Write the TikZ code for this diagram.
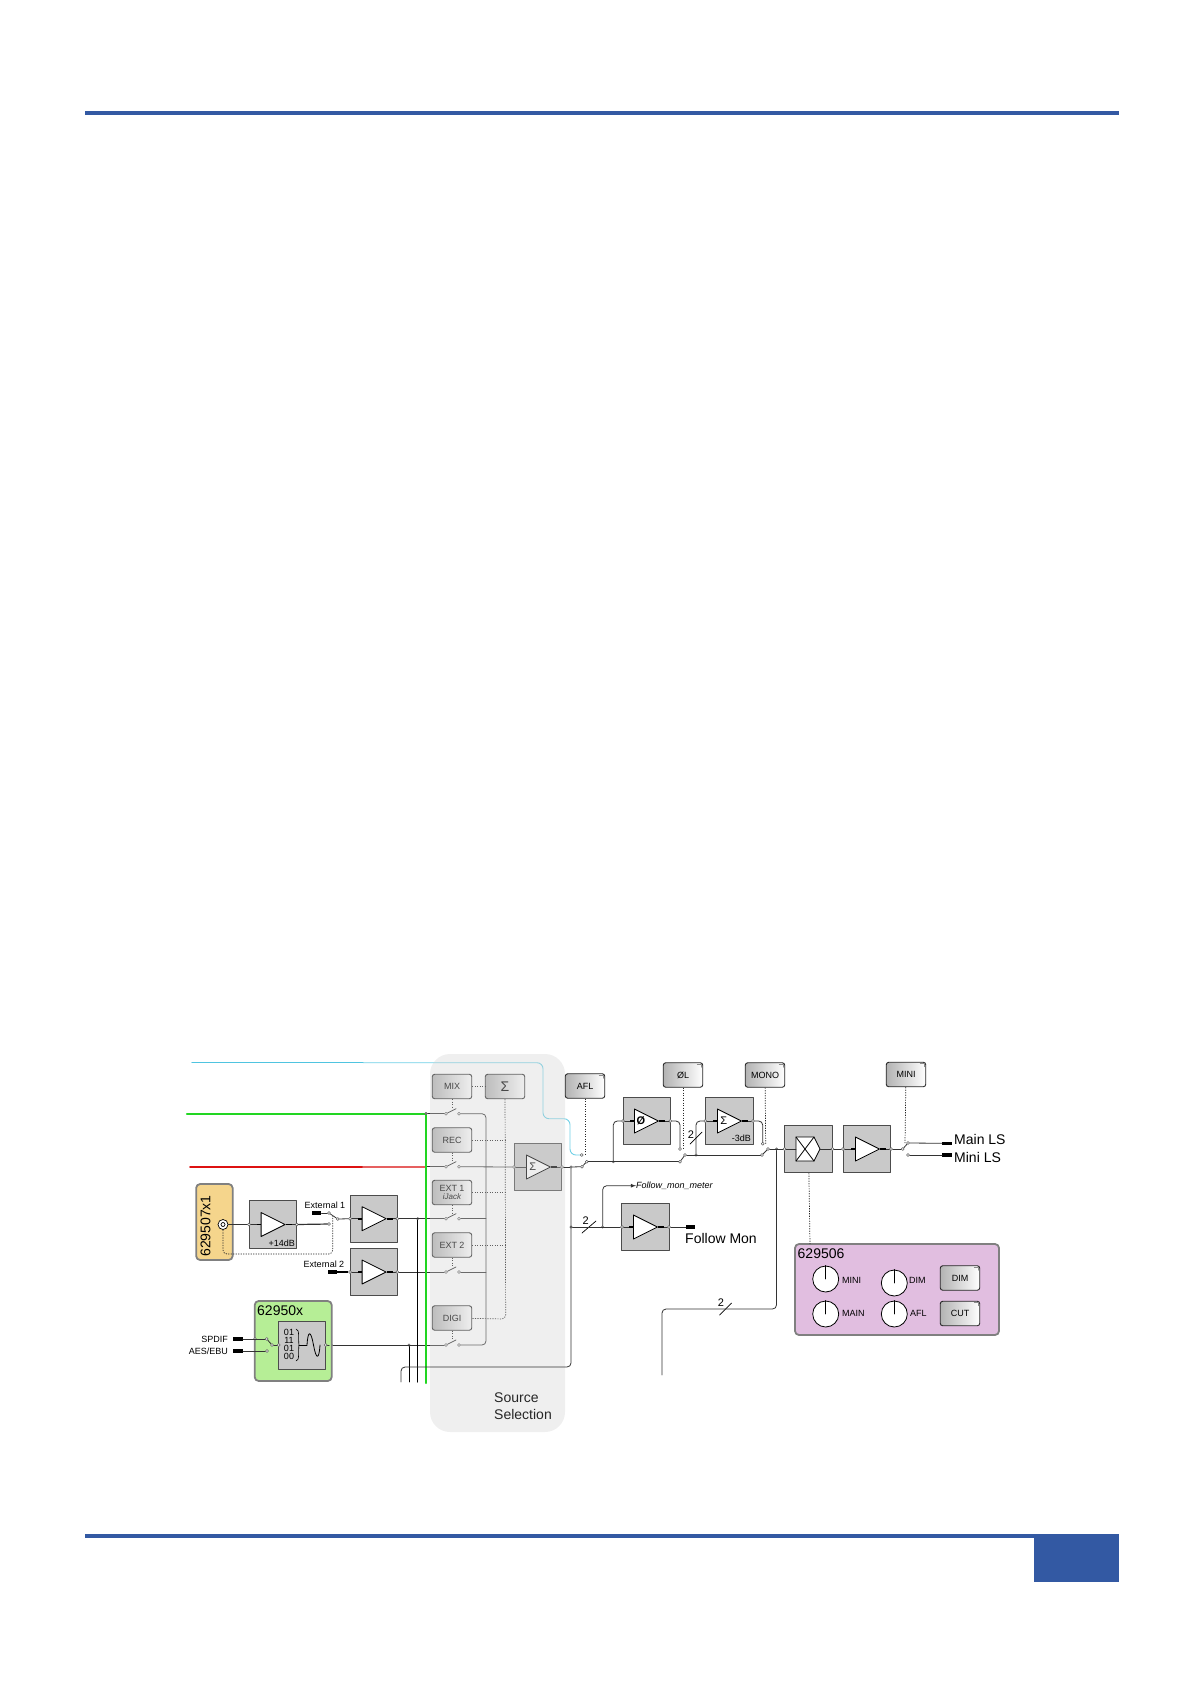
\documentclass[tikz,border=0pt]{standalone}
\usepackage{fontspec}
\setmainfont{Liberation Sans}
\usetikzlibrary{shapes.geometric}
\definecolor{barblue}{HTML}{3359A3}
\definecolor{blockgrey}{HTML}{C9C9C9}
\definecolor{cyanline}{HTML}{4FC4E0}
\definecolor{cyanfade}{HTML}{6FD0E6}
\definecolor{greenline}{HTML}{22D622}
\definecolor{redline}{HTML}{DD1111}
\definecolor{redfade}{HTML}{E66060}
\definecolor{orangebox}{HTML}{F5D58C}
\definecolor{greenbox}{HTML}{B6EE96}
\definecolor{lilacbox}{HTML}{E1BEE0}
\tikzset{
  blockbox/.style={draw=black!70,fill=blockgrey,line width=0.6pt,minimum width=47.5,minimum height=47.5,inner sep=0pt},
  cardbox/.style={draw=black!50,line width=1.8pt,rounded corners=4pt,inner sep=0pt},
  ampsym/.style={isosceles triangle,isosceles triangle stretches,draw=black,fill=white,line width=0.8pt,minimum width=24,minimum height=24,inner sep=0pt,anchor=lower side,font=\fontsize{11}{11}\selectfont},
  keybox/.style={draw=black!85,rounded corners=2.5pt,line width=0.9pt,left color=black!30,right color=white,minimum width=39.5,minimum height=24.5,inner sep=0pt,font=\fontsize{9}{9}\selectfont},
  knobdial/.style={circle,draw=black,fill=white,line width=0.8pt,minimum size=26,inner sep=0pt},
  pinpoint/.style={circle,draw=black!65,fill=white,line width=0.5pt,minimum size=3,inner sep=0pt},
  dotpoint/.style={circle,draw=black!60,fill=black!50,line width=0.3pt,minimum size=2.6,inner sep=0pt},
  plugbox/.style={fill=black,minimum width=9.5,minimum height=3.6,inner sep=0pt},
  sigline/.style={line width=0.8pt,draw=black!80},
  stubline/.style={line width=1.6pt,draw=black,line cap=butt},
  ctrlline/.style={line width=0.7pt,draw=black!85,line cap=butt,dash pattern=on 1.2pt off 1.3pt},
  smalltext/.style={font=\fontsize{9}{9}\selectfont,inner sep=0pt},
  bigtext/.style={font=\fontsize{14}{17.5}\selectfont,inner sep=0pt,anchor=west}
}
\begin{document}
\begin{tikzpicture}[x=1pt,y=-1pt,line cap=round,line join=round,>=latex]
  \useasboundingbox (0,0) rectangle (1191,1684);
  % page rules
  \fill[barblue] (85,111) rectangle (1119,115);
  \fill[barblue] (85,1534) rectangle (1119,1538);
  \fill[barblue] (1034,1538) rectangle (1119,1582);
  % input lines
  \coordinate (cyanstart) at (192,1062.7);
  \coordinate (cyanmid) at (363,1062.7);
  \coordinate (redstart) at (190,1166.7);
  \coordinate (redmid) at (363,1166.7);
  \coordinate (greenstart) at (187,1113.7);
  \coordinate (greenbus) at (426,1113.7);
  \coordinate (greenend) at (426,1383);
  \draw[cyanline,line width=1.1pt] (cyanstart) -- (cyanmid);
  \draw[cyanfade,line width=0.9pt,rounded corners=6pt] (cyanmid) -- (543,1062.7) -- (543,1118.7) -- (570,1118.7) -- (570,1155) -- (581,1155);
  \draw[redline,line width=1.6pt] (redstart) -- (redmid);
  % blocks
  \node[blockbox] (ampgain) at (272.8,1224.5) {};
  \node[blockbox] (ampext) at (373.6,1218.7) {};
  \node[blockbox] (ampint) at (373.6,1272) {};
  \node[blockbox] (sumblock) at (538,1167) {};
  \node[blockbox] (phase) at (646.7,1121) {};
  \node[blockbox] (mono) at (729.2,1121) {};
  \node[blockbox] (matrix) at (808.5,1149) {};
  \node[blockbox] (ampout) at (867,1149) {};
  \node[blockbox] (ampmon) at (645.5,1227) {};
  % symbols in the blocks
  \node[ampsym] (trigain) at (260.7,1224.5) {};
  \node[ampsym] (triext) at (361.7,1218.7) {};
  \node[ampsym] (triint) at (361.7,1272) {};
  \node[ampsym] (trisum) at (526,1167) {Σ\hspace{8pt}};
  \node[ampsym] (triphase) at (634,1121) {\textbf{Ø}\hspace{7pt}};
  \node[ampsym] (trimono) at (717,1121) {Σ\hspace{8pt}};
  \node[ampsym] (triout) at (855,1149) {};
  \node[ampsym] (trimon) at (633,1227) {};
  \draw[line width=0.8pt,fill=white] (796,1137) -- (814,1137) -- (820,1149) -- (814,1161) -- (796,1161) -- cycle;
  \draw[line width=0.8pt] (796,1137) -- (814,1161);
  \draw[line width=0.8pt] (796,1161) -- (814,1137);
  \node[smalltext,anchor=east] (gainlabel) at (295,1243) {+14dB};
  \node[smalltext,anchor=east] (monolabel) at (751,1138.7) {-3dB};
  % source selection lines, under the panel
  \node[pinpoint] (mixa) at (446,1113.7) {};
  \node[pinpoint] (mixb) at (459,1113.7) {};
  \node[pinpoint] (reca) at (446,1166.7) {};
  \node[pinpoint] (recb) at (459,1166.7) {};
  \node[pinpoint] (exta) at (446,1218.7) {};
  \node[pinpoint] (extb) at (459,1218.7) {};
  \node[pinpoint] (inta) at (446,1272) {};
  \node[pinpoint] (intb) at (459,1272) {};
  \node[pinpoint] (diga) at (446,1345) {};
  \node[pinpoint] (digb) at (459,1345) {};
  \node[pinpoint] (sumin) at (514,1167) {};
  \node[pinpoint] (sumout) at (562,1167) {};
  \node[dotpoint] (greentap) at (426,1113.7) {};
  \node[dotpoint] (extbus) at (417.7,1218.7) {};
  \node[dotpoint] (digbus) at (409,1345) {};
  \node[pinpoint] (extout) at (397.3,1218.7) {};
  \node[pinpoint] (intout) at (397.3,1272) {};
  \node[pinpoint] (conv) at (331,1345) {};
  \coordinate (mixarm) at (456,1108.7);
  \coordinate (recarm) at (456,1161.7);
  \coordinate (extarm) at (456,1213.7);
  \coordinate (intarm) at (456,1267);
  \coordinate (digarm) at (456,1340);
  \draw[sigline] (greentap) -- (mixa);
  \draw[sigline] (redmid) -- (reca);
  \draw[redfade,line width=1.6pt] (redmid) -- (426,1166.7);
  \draw[sigline] (extout) -- (exta);
  \draw[sigline] (intout) -- (inta);
  \draw[sigline] (conv) -- (diga);
  \draw[sigline] (mixa) -- (mixarm);
  \draw[sigline] (reca) -- (recarm);
  \draw[sigline] (exta) -- (extarm);
  \draw[sigline] (inta) -- (intarm);
  \draw[sigline] (diga) -- (digarm);
  \draw[sigline,rounded corners=4pt] (mixb) -- (486,1113.7) -- (486,1345) -- (digb);
  \draw[sigline] (recb) -- (sumin);
  \draw[sigline] (extb) -- (486,1218.7);
  \draw[sigline] (intb) -- (486,1272);
  \draw[sigline] (sumin) -- (trisum.lower side);
  \draw[sigline] (trisum.apex) -- (sumout);
  \draw[stubline] (trisum.apex) -- ++(6,0);
  % panel keys
  \node[keybox] (keymix) at (452,1086.5) {MIX};
  \node[keybox] (keysum) at (505,1086.5) {\fontsize{14}{14}\selectfont Σ};
  \node[keybox] (keyrec) at (452,1140) {REC};
  \node[keybox,align=center] (keyexta) at (452,1192.5) {\fontsize{9}{8}\selectfont EXT 1\\[-1pt]\fontsize{8}{7}\selectfont\itshape iJack};
  \node[keybox] (keyextb) at (452,1245) {EXT 2};
  \node[keybox] (keydigi) at (452,1318) {DIGI};
  \draw[ctrlline] (keymix) -- (keysum);
  \draw[ctrlline] (keymix) -- (mixarm -| keymix);
  \draw[ctrlline] (keyrec) -- (recarm -| keyrec);
  \draw[ctrlline] (keyexta) -- (extarm -| keyexta);
  \draw[ctrlline] (keyextb) -- (intarm -| keyextb);
  \draw[ctrlline] (keydigi) -- (digarm -| keydigi);
  \draw[ctrlline,rounded corners=4pt] (keysum) -- (505.7,1319) -- (keydigi);
  \draw[ctrlline] (keyrec) -- (505.7,1140);
  \draw[ctrlline] (keyexta) -- (505.7,1192.5);
  \draw[ctrlline] (keyextb) -- (505.7,1245);
  % panel over everything in it
  \fill[black!18,opacity=0.35,rounded corners=20pt] (430,1054) rectangle (565,1432);
  \node[bigtext,align=left,text=black!85] (sourcetext) at (494,1406) {Source\\Selection};
  % inputs from the left
  \draw[greenline,line width=2.4pt] (greenstart) -- (greenbus) -- (greenend);
  \node[dotpoint] (greendot) at (426,1113.7) {};
  \coordinate (extend) at (417.7,1382);
  \coordinate (digend) at (409,1382);
  \coordinate (sumend) at (401,1382);
  \draw[line width=1.3pt] (extbus) -- (extend);
  \draw[line width=0.8pt] (digbus) -- (digend);
  % card 629507x1
  \node[cardbox,fill=orangebox,minimum width=36.5,minimum height=76] (cardin) at (214.4,1222) {};
  \node[font=\fontsize{14}{14}\selectfont,inner sep=0pt,rotate=90] (cardintext) at (205.5,1226) {629507x1};
  \node[circle,draw=black,fill=white,line width=0.7pt,minimum size=10,inner sep=0pt] (jack) at (223,1224.5) {};
  \node[circle,draw=black,line width=0.7pt,minimum size=4,inner sep=0pt] (jackcore) at (223,1224.5) {};
  \node[pinpoint] (gainin) at (249,1224.5) {};
  \node[pinpoint] (gainout) at (296.7,1224.5) {};
  \draw[sigline] (jack) -- (gainin);
  \draw[sigline] (gainin) -- (trigain.lower side);
  \draw[sigline] (trigain.apex) -- (gainout);
  % external inputs
  \node[smalltext] (ext1text) at (325,1205) {External 1};
  \node[smalltext] (ext2text) at (324,1264) {External 2};
  \node[plugbox] (ext1plug) at (316.5,1213) {};
  \node[plugbox] (ext2plug) at (332.5,1272) {};
  \node[pinpoint] (swa) at (329,1213) {};
  \node[pinpoint] (swb) at (329,1224) {};
  \node[pinpoint] (swc) at (337.7,1219) {};
  \node[pinpoint] (extin) at (350,1218.7) {};
  \node[pinpoint] (intin) at (350,1272) {};
  \draw[sigline] (ext1plug) -- (swa);
  \draw[sigline] (swa) -- (swc);
  \draw[sigline,line width=1.2pt] (gainout) -- (swb);
  \draw[sigline] (swc) -- (extin);
  \draw[sigline] (extin) -- (triext.lower side);
  \draw[sigline] (triext.apex) -- (extout);
  \draw[stubline] (ext2plug) -- (intin);
  \draw[sigline] (intin) -- (triint.lower side);
  \draw[sigline] (triint.apex) -- (intout);
  \draw[ctrlline,rounded corners=4pt] (jack) -- (223,1254) -- (332.7,1254) -- (332.7,1216);
  % card 62950x
  \node[cardbox,fill=greenbox,minimum width=77,minimum height=80] (cardconv) at (293.2,1341) {};
  \node[bigtext] (cardconvtext) at (257,1311) {62950x};
  \node[blockbox,minimum width=47,minimum height=48] (convblock) at (302.2,1345) {};
  \node[font=\fontsize{9}{8}\selectfont,align=center,inner sep=0pt] (bits) at (289,1344) {01\\11\\01\\00};
  \draw[line width=0.6pt] (296,1329) .. controls (300,1329) and (298,1340) .. (299,1345) .. controls (298,1350) and (300,1361) .. (296,1361);
  \coordinate (sinestart) at (299,1345);
  \coordinate (sinea) at (307,1345);
  \draw[line width=0.6pt] (sinestart) -- (sinea);
  \draw[line width=0.8pt] (sinea) .. controls (308,1329) and (311,1331) .. (313.5,1345) .. controls (316,1359) and (319,1361) .. (320,1345);
  \node[smalltext,anchor=east] (spdiftext) at (228,1339) {SPDIF};
  \node[smalltext,anchor=east] (aestext) at (228,1351) {AES/EBU};
  \node[plugbox] (spdifplug) at (238,1339) {};
  \node[plugbox] (aesplug) at (238,1351) {};
  \node[pinpoint] (spdifa) at (255,1339) {};
  \node[pinpoint] (spdifb) at (266.7,1339) {};
  \node[pinpoint] (aesb) at (267,1351) {};
  \node[pinpoint] (convsw) at (272,1345) {};
  \node[pinpoint] (convin) at (278.7,1345) {};
  \node[pinpoint] (convout) at (325.7,1345) {};
  \draw[sigline] (spdifplug) -- (spdifb);
  \draw[sigline] (aesplug) -- (aesb);
  \draw[sigline] (spdifb) -- (convsw);
  \draw[sigline] (convsw) -- (convin);
  \draw[sigline] (convout) -- (conv);
  % output chain
  \node[dotpoint] (sumtap) at (571,1167) {};
  \node[pinpoint] (aflcut) at (581.7,1155) {};
  \node[pinpoint] (afla) at (582,1166.7) {};
  \node[pinpoint] (aflb) at (586.7,1161.7) {};
  \node[pinpoint] (phasea) at (680,1161.7) {};
  \node[pinpoint] (phaseb) at (685,1155) {};
  \node[pinpoint] (phasec) at (680,1149) {};
  \node[pinpoint] (monoa) at (762,1155) {};
  \node[pinpoint] (monob) at (768,1149) {};
  \node[pinpoint] (monoc) at (762.7,1143.7) {};
  \node[dotpoint] (phasetap) at (613.3,1161.7) {};
  \node[dotpoint] (monotap) at (696,1155) {};
  \node[dotpoint] (matrixtap) at (776.5,1149) {};
  \node[pinpoint] (phasein) at (623,1121) {};
  \node[pinpoint] (phaseout) at (670.3,1121) {};
  \node[pinpoint] (monoin) at (705.3,1121) {};
  \node[pinpoint] (monoout) at (753,1121) {};
  \node[pinpoint] (matrixin) at (784.5,1149) {};
  \node[pinpoint] (matrixout) at (832.5,1149) {};
  \node[pinpoint] (outin) at (843,1149) {};
  \node[pinpoint] (outout) at (891,1149) {};
  \node[pinpoint] (outa) at (902.7,1149) {};
  \node[pinpoint] (outb) at (908,1143) {};
  \node[pinpoint] (outc) at (908,1155) {};
  \draw[sigline] (sumout) -- (sumtap);
  \draw[sigline] (sumtap) -- (afla);
  \draw[sigline] (afla) -- (aflb);
  \draw[sigline,line width=1pt] (aflb) -- (phasea);
  \draw[sigline] (phasea) -- (phaseb);
  \draw[sigline,line width=1pt] (phaseb) -- (monoa);
  \draw[sigline] (monoa) -- (monob);
  \draw[sigline] (monob) -- (matrixin);
  \draw[sigline,rounded corners=4pt] (phasetap) -- (613.3,1121) -- (phasein);
  \draw[sigline,rounded corners=4pt] (phaseout) -- (680,1121) -- (phasec);
  \draw[sigline,rounded corners=4pt] (monotap) -- (696,1121) -- (monoin);
  \draw[sigline,rounded corners=4pt] (monoout) -- (762.7,1121) -- (monoc);
  \draw[sigline] (phasein) -- (triphase.lower side);
  \draw[sigline] (triphase.apex) -- (phaseout);
  \draw[sigline] (monoin) -- (trimono.lower side);
  \draw[sigline] (trimono.apex) -- (monoout);
  \draw[sigline] (matrixin) -- (796,1149);
  \draw[sigline] (820,1149) -- (matrixout);
  \draw[sigline] (matrixout) -- (outin);
  \draw[sigline] (outin) -- (triout.lower side);
  \draw[sigline] (triout.apex) -- (outout);
  \draw[sigline] (outout) -- (outa);
  \draw[sigline] (outa) -- (outb);
  \node[plugbox] (mainplug) at (947,1143.3) {};
  \node[plugbox] (miniplug) at (947,1155) {};
  \draw[sigline] (outb) -- (mainplug);
  \draw[sigline] (outc) -- (miniplug);
  \node[bigtext] (maintext) at (954,1139) {Main LS};
  \node[bigtext] (minitext) at (954,1157) {Mini LS};
  % bus slashes
  \coordinate (slashmono) at (696,1138);
  \coordinate (slashmon) at (589,1227);
  \coordinate (slashout) at (725.7,1309);
  \draw[line width=0.7pt] ([shift={(-6,6)}]slashmono) -- ([shift={(6,-6)}]slashmono);
  \draw[line width=0.7pt] ([shift={(-7,6)}]slashmon) -- ([shift={(7,-6)}]slashmon);
  \draw[line width=0.7pt] ([shift={(-6,6)}]slashout) -- ([shift={(6,-6)}]slashout);
  \node[font=\fontsize{11}{11}\selectfont,inner sep=0pt] (twomono) at (691,1135) {2};
  \node[font=\fontsize{11}{11}\selectfont,inner sep=0pt] (twomon) at (585.7,1221) {2};
  \node[font=\fontsize{11}{11}\selectfont,inner sep=0pt] (twoout) at (721,1303) {2};
  % follow mon
  \node[dotpoint] (montap) at (571,1227) {};
  \node[dotpoint] (metertap) at (602.7,1227) {};
  \node[pinpoint] (monitorin) at (622,1227) {};
  \node[pinpoint] (monitorout) at (669,1227) {};
  \node[plugbox] (monplug) at (690.5,1227) {};
  \coordinate (sumcorner) at (571,1367);
  \draw[sigline,rounded corners=4pt] (sumtap) -- (sumcorner) -- (401,1367) -- (sumend);
  \draw[sigline] (montap) -- (monitorin);
  \draw[sigline] (monitorin) -- (trimon.lower side);
  \draw[sigline] (trimon.apex) -- (monitorout);
  \draw[sigline] (monitorout) -- (monplug);
  \node[smalltext,anchor=west,font=\fontsize{9}{9}\selectfont\itshape] (metertext) at (636,1185.7) {Follow\_mon\_meter};
  \draw[sigline,rounded corners=4pt,-latex] (metertap) -- (602.7,1185.7) -- (metertext);
  \node[bigtext] (montext) at (685,1238) {Follow Mon};
  % second bus
  \coordinate (busend) at (662,1375);
  \draw[sigline,rounded corners=4pt] (matrixtap) -- (776.5,1309) -- (662,1309) -- (busend);
  % thick stubs at the triangles
  \foreach \tri in {trigain,triext,triint,triphase,trimono,trimon,triout} {
    \draw[stubline] (\tri.apex) -- ++(6,0);
    \draw[stubline] (\tri.lower side) -- ++(-4,0);
  }
  % keys over the chain
  \node[keybox] (keyafl) at (585,1086) {AFL};
  \node[keybox] (keyphase) at (683,1075) {ØL};
  \node[keybox] (keymono) at (765,1075) {MONO};
  \node[keybox] (keymini) at (906,1074.5) {MINI};
  \draw[ctrlline] (keyafl) -- (585,1155);
  \draw[ctrlline] (keyphase) -- (683,1149);
  \draw[ctrlline] (keymono) -- (765.7,1144);
  \draw[ctrlline] (keymini) -- (905,1143);
  % card 629506
  \node[cardbox,fill=lilacbox,minimum width=204,minimum height=91] (cardctrl) at (897,1289.5) {};
  \node[bigtext] (cardctrltext) at (797.5,1254) {629506};
  \draw[ctrlline] (matrix) -- (810,1244);
  \node[knobdial] (knobmini) at (825.7,1279) {};
  \node[knobdial] (knobdim) at (894.3,1283) {};
  \node[knobdial] (knobmain) at (825.7,1314) {};
  \node[knobdial] (knobafl) at (894.3,1314) {};
  \foreach \knob in {knobmini,knobdim,knobmain,knobafl}
    \draw[line width=0.8pt] (\knob.center) -- (\knob.north);
  \node[smalltext,anchor=west] (minilabel) at (842,1280) {MINI};
  \node[smalltext,anchor=west] (mainlabel) at (842,1313) {MAIN};
  \node[smalltext,anchor=west] (dimlabel) at (909,1280) {DIM};
  \node[smalltext,anchor=west] (afllabel) at (910,1313) {AFL};
  \node[keybox] (keydim) at (960,1278) {DIM};
  \node[keybox] (keycut) at (960,1313.5) {CUT};
  \foreach \key in {keyafl,keyphase,keymono,keymini,keydim,keycut}
    \draw[line width=0.5pt,black!45] ([shift={(-6,1.5)}]\key.north east) -- ([shift={(-1.5,1.5)}]\key.north east) -- ([shift={(-1.5,5)}]\key.north east);
\end{tikzpicture}
\end{document}
